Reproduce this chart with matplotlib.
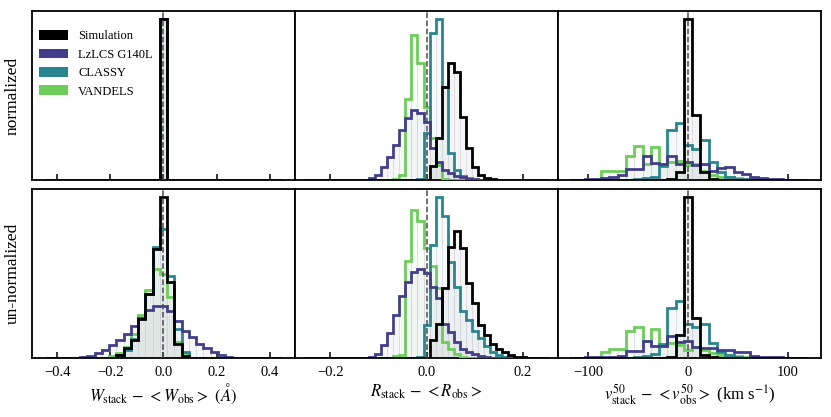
import numpy as np
import matplotlib
matplotlib.use("Agg")
import matplotlib.pyplot as plt
from matplotlib.patches import Patch
from matplotlib.colors import to_rgba

plt.rcParams['font.family'] = ['Liberation Serif', 'DejaVu Serif']
plt.rcParams['mathtext.fontset'] = 'stix'
plt.rcParams['axes.linewidth'] = 1.3

# series names and colours
names = ['Simulation', 'LzLCS G140L', 'CLASSY', 'VANDELS']
colors = ['black', '#433e8b', '#29858f', '#6ccd5a']

# bin edges of the three columns
w_edges = np.linspace(-0.45, 0.45, 34)
r_edges = np.linspace(-0.25625, 0.25625, 42)
v_edges = np.linspace(-120, 120, 30)

# --- W, normalized (every sample sits in the zero bin)
w_norm_sim = [0]*16 + [100] + [0]*16
w_norm_lz = [0]*16 + [100] + [0]*16
w_norm_cl = [0]*16 + [100] + [0]*16
w_norm_va = [0]*16 + [100] + [0]*16
# --- W, un-normalized
w_un_sim = [0]*10 + [2, 6, 11, 24, 40, 68, 100, 47, 9, 1] + [0]*13
w_un_cl = [0]*10 + [2, 5, 12, 25, 40, 69, 80, 51, 18, 4] + [0]*13
w_un_va = [0]*9 + [1, 3, 7, 15, 27, 42, 55, 52, 38, 10, 3] + [0]*13
w_un_lz = [0]*5 + [0.7, 1.5, 3, 5, 8, 11, 15, 20, 25, 30, 32, 32, 29, 23, 17,
                   13, 9, 6, 3.5, 1.6, 0.8] + [0]*7

# --- R, normalized
r_norm_sim = [0]*21 + [42, 127, 280, 352, 323, 188, 95, 40, 15, 5, 2] + [0]*9
r_norm_cl = [0]*19 + [3, 140, 442, 483, 280, 80, 30, 12, 5] + [0]*13
r_norm_va = [0]*15 + [4, 15, 242, 435, 350, 220, 127, 45, 3] + [0]*17
r_norm_lz = [0]*11 + [5, 15, 40, 70, 105, 150, 185, 210, 200, 175, 95, 55, 30,
                      20, 13, 8, 4, 2] + [0]*12
# --- R, un-normalized
r_un_sim = [0]*21 + [53, 103, 210, 333, 378, 328, 223, 163, 98, 68, 43, 28,
                     18, 8, 4, 2] + [0]*4
r_un_cl = [0]*19 + [3, 98, 338, 481, 423, 288, 213, 140, 115, 80, 60, 35, 18,
                    8, 3] + [0]*7
r_un_va = [0]*15 + [5, 8, 290, 443, 408, 328, 276, 208, 48, 28, 12, 4] + [0]*14
r_un_lz = [0]*11 + [4, 11, 38, 76, 128, 186, 226, 258, 265, 253, 213, 178, 103,
                    78, 48, 28, 18, 11, 6, 3] + [0]*10

# --- v50, normalized
v_norm_sim = [0]*12 + [2, 25, 480, 193, 23, 4] + [0]*11
v_norm_cl = [0]*8 + [3, 5, 10, 43, 148, 170, 103, 93, 118, 53, 23, 8, 4, 2] + [0]*7
v_norm_va = [0]*4 + [28, 28, 28, 73, 101, 48, 98, 48, 55, 58, 45, 48, 28, 16,
                     10, 8, 6, 4, 3, 2] + [0]*5
v_norm_lz = [1, 1, 2, 3, 6, 8, 14, 33, 33, 73, 50, 48, 73, 48, 55, 45, 48, 28,
             35, 38, 25, 18, 8, 6, 4, 2, 1] + [0]*2
# --- v50, un-normalized
v_un_sim = [0]*12 + [3, 70, 480, 120, 8, 3] + [0]*11
v_un_cl = [0]*8 + [3, 5, 13, 43, 150, 170, 100, 92, 102, 45, 19, 8, 3] + [0]*8
v_un_va = [0]*4 + [17, 27, 27, 80, 92, 52, 87, 37, 45, 40, 25, 33, 23, 15, 10,
                   7, 5, 3, 2] + [0]*6
v_un_lz = [1, 1, 2, 3, 3, 4, 6, 22, 22, 52, 37, 37, 67, 47, 52, 32, 29, 29, 24,
           24, 17, 17, 5, 4, 3, 2, 1] + [0]*2

# order: Simulation, LzLCS, CLASSY, VANDELS
panels = [
    [(w_edges, [w_norm_sim, w_norm_lz, w_norm_cl, w_norm_va]),
     (r_edges, [r_norm_sim, r_norm_lz, r_norm_cl, r_norm_va]),
     (v_edges, [v_norm_sim, v_norm_lz, v_norm_cl, v_norm_va])],
    [(w_edges, [w_un_sim, w_un_lz, w_un_cl, w_un_va]),
     (r_edges, [r_un_sim, r_un_lz, r_un_cl, r_un_va]),
     (v_edges, [v_un_sim, v_un_lz, v_un_cl, v_un_va])],
]

xlims = [(-0.495, 0.495), (-0.273, 0.273), (-130, 133)]
xticks = [[-0.4, -0.2, 0.0, 0.2, 0.4], [-0.2, 0.0, 0.2], [-100, 0, 100]]
xlabels = [r'$W_{\rm stack}$ $-$ $<W_{\rm obs}>$ $(\AA)$',
           r'$R_{\rm stack}$ $-$ $<R_{\rm obs}>$',
           r'$v^{50}_{\rm stack}$ $-$ $<v^{50}_{\rm obs}>$ (km s$^{-1}$)']
rowlabels = ['normalized', 'un-normalized']

fig, axes = plt.subplots(2, 3, figsize=(8.31, 4.17), dpi=100)
fig.subplots_adjust(left=0.0385, right=0.988, bottom=0.1415, top=0.9736,
                    wspace=0, hspace=0.053)

draw_order = [3, 2, 1, 0]
for i in range(2):
    for j in range(3):
        ax = axes[i, j]
        edges, series = panels[i][j]
        centers = 0.5*(edges[:-1] + edges[1:])
        width = np.diff(edges)
        for k in draw_order:
            h = np.asarray(series[k], dtype=float)
            ax.bar(centers, h, width=width, facecolor=to_rgba(colors[k], 0.04),
                   edgecolor=(0.84, 0.85, 0.88, 0.55), linewidth=0.7, zorder=1)
        for k in draw_order:
            h = np.asarray(series[k], dtype=float)
            ax.stairs(h, edges, color=colors[k], lw=2.0, zorder=3)
        ax.axvline(0, color='0.3', ls='--', lw=1.1, zorder=5)
        ax.set_xlim(*xlims[j])
        ax.set_xticks(xticks[j])
        ax.set_yticks([])
        ax.tick_params(axis='x', direction='in', length=4, width=1.1,
                       labelsize=10.5, pad=6)
        if i == 0:
            ax.tick_params(labelbottom=False)
        else:
            ax.set_xlabel(xlabels[j], fontsize=12, labelpad=2)
        if j == 0:
            ax.set_ylabel(rowlabels[i], fontsize=12.5, labelpad=8)

handles = [Patch(facecolor=c, edgecolor='none') for c in colors]
axes[0, 0].legend(handles, names, loc='upper left', frameon=False, fontsize=9,
                  handlelength=2.3, handleheight=0.8, labelspacing=0.5,
                  borderaxespad=0.2, bbox_to_anchor=(0.0, 0.93))

plt.savefig('out.png', dpi=100)
